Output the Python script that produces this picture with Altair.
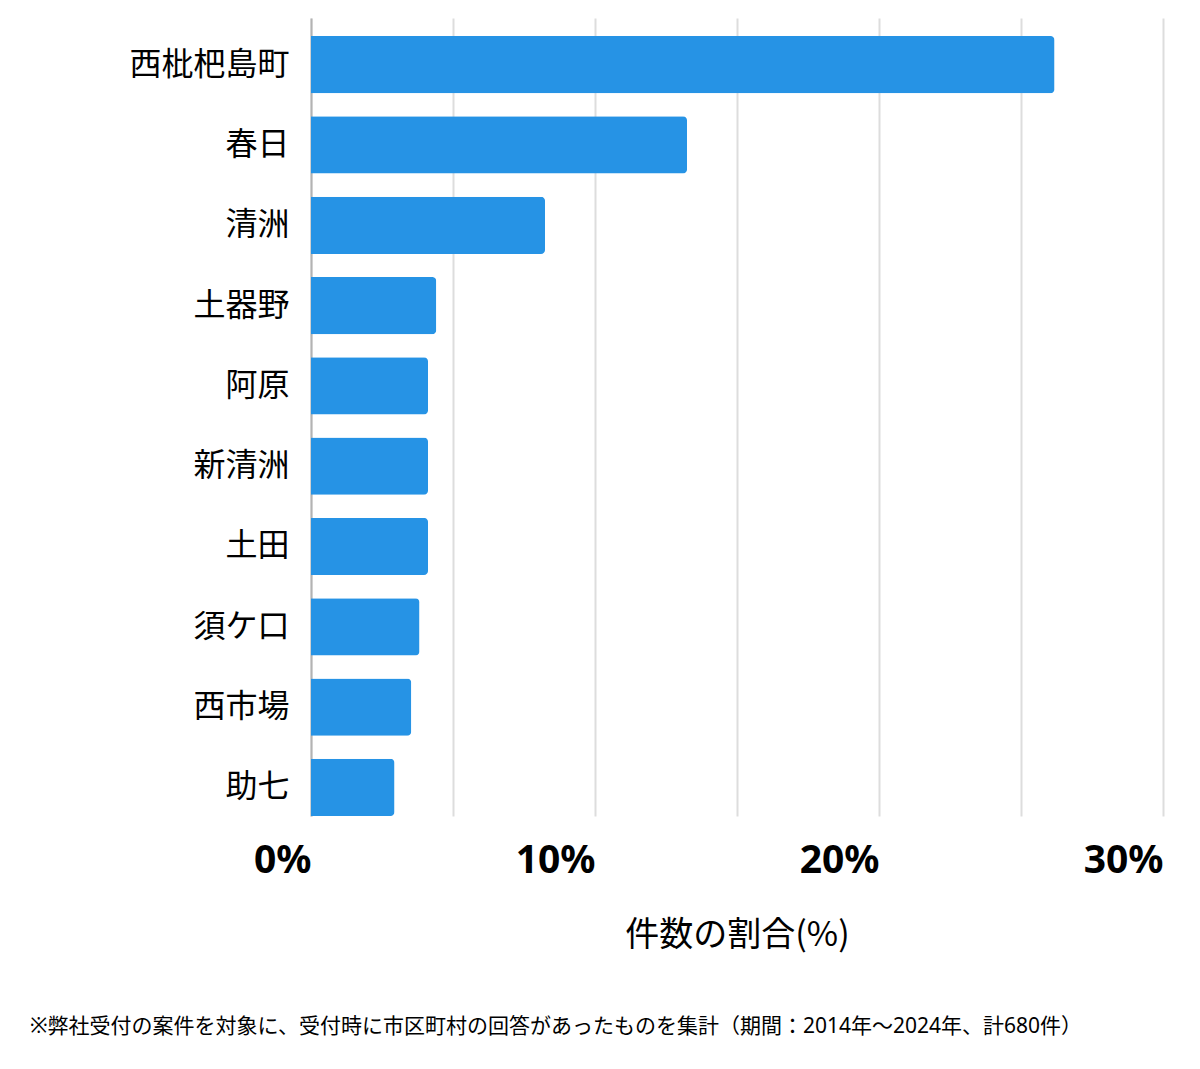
import altair as alt
import pandas as pd

areas = ["西枇杷島町", "春日", "清洲", "土器野", "阿原", "新清洲", "土田", "須ケ口", "西市場", "助七"]
shares = [26.18, 13.24, 8.24, 4.41, 4.12, 4.12, 4.12, 3.82, 3.53, 2.94]
grid_values = [0, 5, 10, 15, 20, 25, 30]
x_title = "件数の割合(%)"
footnote = "※弊社受付の案件を対象に、受付時に市区町村の回答があったものを集計（期間：2014年～2024年、計680件）"

df = pd.DataFrame({"area": areas, "share": shares})

latin = "Noto Sans, Noto Sans CJK JP"
cjk = "Noto Sans CJK JP"

chart = alt.Chart(df).mark_bar(
    color="#2693e5", cornerRadiusEnd=4
).encode(
    x=alt.X(
        "share:Q",
        scale=alt.Scale(domain=[0, 30], nice=False),
        axis=alt.Axis(
            values=grid_values,
            labelExpr="datum.value % 10 == 0 ? datum.value + '%' : ''",
            labelAlign="right",
            labelFont=latin,
            labelFontSize=39,
            labelFontWeight="bold",
            labelColor="#000000",
            labelPadding=25,
            ticks=False,
            domain=False,
            grid=True,
            gridColor="#dddddd",
            gridWidth=2,
            title=x_title,
            titleFont=cjk,
            titleFontSize=34,
            titleFontWeight="normal",
            titleColor="#000000",
            titlePadding=38,
        ),
    ),
    y=alt.Y(
        "area:N",
        sort=areas,
        scale=alt.Scale(paddingInner=0.2875, paddingOuter=0.1125, align=1),
        axis=alt.Axis(
            labelFont=cjk,
            labelFontSize=32,
            labelColor="#000000",
            labelPadding=22,
            ticks=False,
            domain=True,
            domainColor="#b3b3b3",
            domainWidth=2,
            grid=False,
            title=None,
        ),
    ),
).properties(
    width=852,
    height=798,
    autosize=alt.AutoSizeParams(type="none"),
    padding={"left": 311, "top": 18, "right": 37, "bottom": 253},
    title=alt.TitleParams(
        text=footnote,
        orient="bottom",
        anchor="start",
        frame="group",
        dx=-281,
        offset=64,
        font=latin,
        fontSize=21,
        fontWeight="normal",
        color="#000000",
    ),
).configure_view(stroke=None)

chart.save("out.html", embed_options={"renderer": "svg", "actions": False})
